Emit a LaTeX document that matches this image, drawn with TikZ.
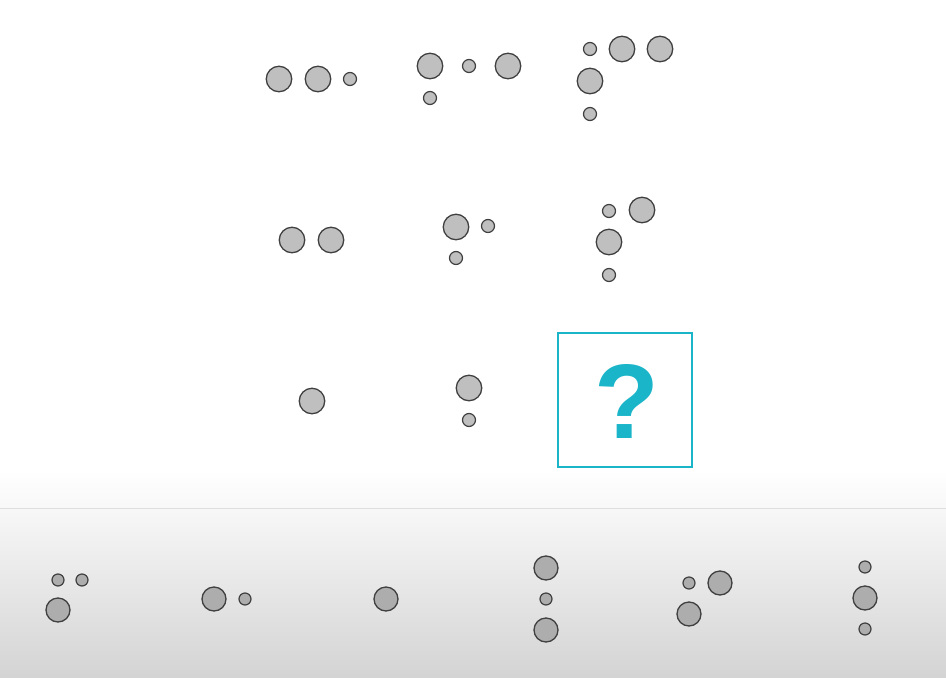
\documentclass[tikz,border=0pt]{standalone}
\usepackage{fontspec}
\setmainfont{Liberation Sans}
\begin{document}
\begin{tikzpicture}[x=1pt,y=-1pt,
  big/.style={circle,draw=black!75,line width=1.3pt,fill=black!25,minimum size=25.5pt,inner sep=0pt},
  small/.style={circle,draw=black!75,line width=1.2pt,fill=black!25,minimum size=13pt,inner sep=0pt},
  bbig/.style={big,fill=black!32,minimum size=24pt},
  bsmall/.style={small,fill=black!32,minimum size=12pt}]
\definecolor{qcyan}{HTML}{1BB5C9}
\useasboundingbox (0,0) rectangle (946,678);
\fill[white] (0,0) rectangle (946,678);
\shade[top color=white,bottom color=black!3] (0,470) rectangle (946,508);
\shade[top color=black!3,bottom color=black!17] (0,508) rectangle (946,678);
\draw[black!13,line width=0.8pt] (0,508.5) -- (946,508.5);
% row 1
\node[big] (a1) at (279,79) {};
\node[big] (a2) at (318,79) {};
\node[small] (a3) at (350,79) {};
\node[big] (b1) at (430,66) {};
\node[small] (b2) at (469,66) {};
\node[big] (b3) at (508,66) {};
\node[small] (b4) at (430,98) {};
\node[small] (c1) at (590,49) {};
\node[big] (c2) at (622,49) {};
\node[big] (c3) at (660,49) {};
\node[big] (c4) at (590,81) {};
\node[small] (c5) at (590,114) {};
% row 2
\node[big] (d1) at (292,240) {};
\node[big] (d2) at (331,240) {};
\node[big] (e1) at (456,227) {};
\node[small] (e2) at (488,226) {};
\node[small] (e3) at (456,258) {};
\node[small] (f1) at (609,211) {};
\node[big] (f2) at (642,210) {};
\node[big] (f3) at (609,242) {};
\node[small] (f4) at (609,275) {};
% row 3
\node[big] (g1) at (312,401) {};
\node[big] (h1) at (469,388) {};
\node[small] (h2) at (469,420) {};
\node[draw=qcyan,line width=2.4pt,minimum size=134pt,inner sep=0pt] (q) at (625,400) {};
\node[text=qcyan,font=\bfseries\fontsize{106}{106}\selectfont,inner sep=0pt] (qm) at (627,401) {?};
% answers
\node[bsmall] (o1a) at (58,580) {};
\node[bsmall] (o1b) at (82,580) {};
\node[bbig] (o1c) at (58,610) {};
\node[bbig] (o2a) at (214,599) {};
\node[bsmall] (o2b) at (245,599) {};
\node[bbig] (o3a) at (386,599) {};
\node[bbig] (o4a) at (546,568) {};
\node[bsmall] (o4b) at (546,599) {};
\node[bbig] (o4c) at (546,630) {};
\node[bsmall] (o5a) at (689,583) {};
\node[bbig] (o5b) at (720,583) {};
\node[bbig] (o5c) at (689,614) {};
\node[bsmall] (o6a) at (865,567) {};
\node[bbig] (o6b) at (865,598) {};
\node[bsmall] (o6c) at (865,629) {};
\end{tikzpicture}
\end{document}
